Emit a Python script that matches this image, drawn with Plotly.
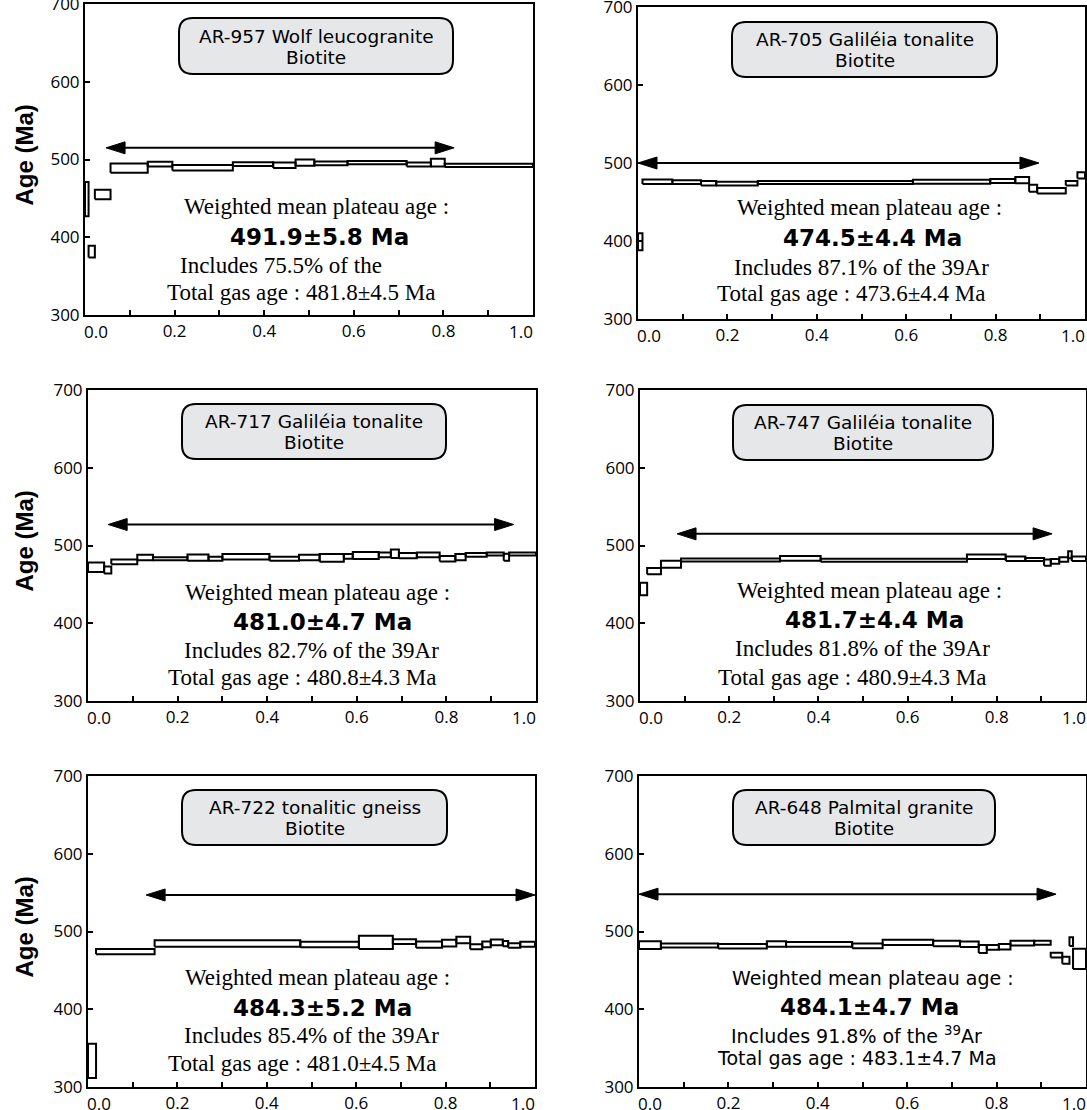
import plotly.graph_objects as go

# ---------------- data ----------------
# cumulative 39Ar fraction released: start / end of each heating step, apparent age (Ma), 1-sigma error (Ma)
AR957_START = [0.0, 0.008, 0.022, 0.057, 0.14, 0.195, 0.33, 0.42, 0.47, 0.512, 0.586, 0.718, 0.772, 0.803]
AR957_END = [0.008, 0.022, 0.057, 0.14, 0.195, 0.33, 0.42, 0.47, 0.512, 0.586, 0.718, 0.772, 0.803, 1.0]
AR957_AGE = [449, 381.5, 455, 489, 494, 489.5, 494, 492.5, 496, 495, 496, 493.5, 496, 492.5]
AR957_ERR = [22, 7.5, 6, 6, 3, 3.5, 2.5, 3.5, 4, 2.5, 2, 2.5, 5, 2]

AR705_START = [0.0, 0.01, 0.077, 0.141, 0.175, 0.268, 0.615, 0.788, 0.844, 0.875, 0.893, 0.957, 0.983]
AR705_END = [0.01, 0.077, 0.141, 0.175, 0.268, 0.615, 0.788, 0.844, 0.875, 0.893, 0.957, 0.983, 1.0]
AR705_AGE = [399, 476, 475.5, 474, 473.5, 475, 476, 477, 478, 467.5, 464.5, 474, 484]
AR705_ERR = [11, 3, 2.5, 3, 2.5, 2, 2.5, 2.5, 4, 4.5, 3.5, 3, 4]

AR717_START = [0.0, 0.036, 0.052, 0.11, 0.145, 0.222, 0.269, 0.30, 0.405, 0.471, 0.517, 0.571,
               0.591, 0.649, 0.676, 0.694, 0.734, 0.785, 0.82, 0.843, 0.89, 0.928, 0.94]
AR717_END = [0.036, 0.052, 0.11, 0.145, 0.222, 0.269, 0.30, 0.405, 0.471, 0.517, 0.571, 0.591,
             0.649, 0.676, 0.694, 0.734, 0.785, 0.82, 0.843, 0.89, 0.928, 0.94, 1.0]
AR717_AGE = [472, 468.5, 479, 484.5, 483, 484.5, 483, 485.5, 483, 484.5, 484, 486,
             487, 488, 489.5, 487, 488, 483, 485, 488, 489, 485, 489]
AR717_ERR = [6, 4.5, 3, 3.5, 2, 4, 2.5, 3.5, 2.5, 3.5, 5, 3, 4.5, 3, 5.5, 3.5, 3, 3.5, 4, 2.5, 2, 4.5, 2]

AR747_START = [0.0, 0.016, 0.047, 0.092, 0.314, 0.405, 0.733, 0.82, 0.864, 0.906, 0.921, 0.94, 0.96, 0.968]
AR747_END = [0.016, 0.047, 0.092, 0.314, 0.405, 0.733, 0.82, 0.864, 0.906, 0.921, 0.94, 0.96, 0.968, 1.0]
AR747_AGE = [444, 467, 476, 481.3, 483.5, 481, 485.5, 483, 482, 478, 479.5, 482, 488, 483]
AR747_ERR = [8, 4, 4.5, 2, 3, 2, 3, 3, 2, 4, 3, 3, 4.5, 3]

AR722_START = [0.0, 0.018, 0.149, 0.475, 0.606, 0.682, 0.734, 0.792, 0.824, 0.855, 0.882, 0.901, 0.928, 0.94, 0.967]
AR722_END = [0.018, 0.149, 0.475, 0.606, 0.682, 0.734, 0.792, 0.824, 0.855, 0.882, 0.901, 0.928, 0.94, 0.967, 1.0]
AR722_AGE = [333.5, 474, 484.7, 483.3, 486, 487, 483, 485, 489, 480.4, 483.5, 486, 484.5, 482, 483.5]
AR722_ERR = [22, 3.4, 4.2, 3.6, 8.5, 3, 4, 4.3, 4.2, 3.2, 3.6, 3.6, 3.4, 3, 3.2]

AR648_START = [0.0, 0.049, 0.177, 0.286, 0.329, 0.477, 0.545, 0.658, 0.718, 0.76, 0.778, 0.805,
               0.831, 0.884, 0.921, 0.947, 0.963, 0.971]
AR648_END = [0.049, 0.177, 0.286, 0.329, 0.477, 0.545, 0.658, 0.718, 0.76, 0.778, 0.805, 0.831,
             0.884, 0.921, 0.947, 0.963, 0.971, 1.0]
AR648_AGE = [482.6, 482, 481, 484, 483.5, 481.5, 486, 484.5, 483.5, 477.5, 479.5, 480.5,
             485, 485.5, 469.6, 463, 487, 464.8]
AR648_ERR = [5, 2.5, 3, 3.5, 3, 3, 3.5, 3.5, 3.5, 5, 3, 3.5, 3, 2.5, 3, 4.5, 5.5, 13]

# plateau arrows (fraction from / to, and drawn at age level)
PLATEAU_FROM = [0.047, 0.0, 0.045, 0.083, 0.13, 0.0]
PLATEAU_TO = [0.824, 0.897, 0.95, 0.924, 1.0, 0.933]
PLATEAU_ARROW_AGE = [515, 500, 527, 515, 547, 548]

SAMPLE_NAMES = ["AR-957 Wolf leucogranite", "AR-705 Galiléia tonalite", "AR-717 Galiléia tonalite",
                "AR-747 Galiléia tonalite", "AR-722 tonalitic gneiss", "AR-648 Palmital granite"]
MINERALS = ["Biotite", "Biotite", "Biotite", "Biotite", "Biotite", "Biotite"]
PLATEAU_LABEL = ["Weighted mean plateau age :"] * 6
PLATEAU_AGES = ["491.9±5.8 Ma", "474.5±4.4 Ma", "481.0±4.7 Ma", "481.7±4.4 Ma", "484.3±5.2 Ma", "484.1±4.7 Ma"]
INCLUDES = ["Includes 75.5% of the", "Includes 87.1% of the 39Ar", "Includes 82.7% of the 39Ar",
            "Includes 81.8% of the 39Ar", "Includes 85.4% of the 39Ar", "Includes 91.8% of the <sup>39</sup>Ar"]
TOTAL_GAS = ["Total gas age : 481.8±4.5 Ma", "Total gas age : 473.6±4.4 Ma", "Total gas age : 480.8±4.3 Ma",
             "Total gas age : 480.9±4.3 Ma", "Total gas age : 481.0±4.5 Ma", "Total gas age : 483.1±4.7 Ma"]

X_TICKS = [0.2, 0.4, 0.6, 0.8]
X_TICK_TEXT = ["0.2", "0.4", "0.6", "0.8"]
X_MINOR_TICKS = [0.1, 0.3, 0.5, 0.7, 0.9]
X_END_LABELS = ["0.0", "1.0"]
Y_TICKS = [300, 400, 500, 600, 700]
Y_TITLE = "Age (Ma)"

STEPS = [
    (AR957_START, AR957_END, AR957_AGE, AR957_ERR),
    (AR705_START, AR705_END, AR705_AGE, AR705_ERR),
    (AR717_START, AR717_END, AR717_AGE, AR717_ERR),
    (AR747_START, AR747_END, AR747_AGE, AR747_ERR),
    (AR722_START, AR722_END, AR722_AGE, AR722_ERR),
    (AR648_START, AR648_END, AR648_AGE, AR648_ERR),
]

# ---------------- layout (screen pixels) ----------------
W, H = 1087, 1110
# plot area: left, right, top, bottom
PANEL_PX = [(85, 533, 4, 315), (638, 1085, 7, 319), (88, 536, 390, 701),
            (640, 1086, 390, 701), (88, 535, 776, 1087), (639, 1086, 776, 1087)]
# title boxes: left, right, top, bottom
BOX_PX = [(179, 453, 18, 74), (732, 997, 22, 77), (182, 446, 404, 459),
          (733, 993, 405, 460), (182, 447, 790, 845), (733, 995, 790, 845)]
# text line centres (x, y) for: label, age, includes, total gas
TEXT_PX = [
    [(316, 206), (319, 237), (281, 265), (301, 292)],
    [(869, 208), (872, 238), (861, 267), (851, 294)],
    [(317, 592), (322, 622), (311, 650), (302, 677)],
    [(870, 590), (874, 620), (862, 648), (852, 677)],
    [(317, 977), (322, 1008), (311, 1035), (302, 1063)],
    [(873, 978), (869, 1007), (856, 1035), (857, 1058)],
]
SERIF = "Liberation Serif"
SANS = "DejaVu Sans"
TICKFONT = "Open Sans"
TICKSIZE = 17


def pxx(x):
    return min(1.0, max(0.0, x / W))


def pxy(y):
    return min(1.0, max(0.0, 1 - y / H))


fig = go.Figure()
shapes = []
annotations = []

for i, (l, r, t, b) in enumerate(PANEL_PX):
    n = "" if i == 0 else str(i + 1)
    xa, ya = "x" + n, "y" + n
    start, end, age, err = STEPS[i]

    # heating-step boxes
    xs, ys = [], []
    for s, e, a, er in zip(start, end, age, err):
        xs += [s, e, e, s, s, None]
        ys += [a - er, a - er, a + er, a + er, a - er, None]
    fig.add_trace(go.Scatter(x=xs, y=ys, mode="lines", fill="toself", fillcolor="white",
                             line=dict(color="black", width=2), xaxis=xa, yaxis=ya,
                             showlegend=False, hoverinfo="skip"))

    # plateau double arrow
    x0, x1, ay = PLATEAU_FROM[i], PLATEAU_TO[i], PLATEAU_ARROW_AGE[i]
    dx = 19.0 / (r - l)
    dy = 6.0 * 400.0 / (b - t)
    fig.add_trace(go.Scatter(x=[x0 + dx, x1 - dx], y=[ay, ay], mode="lines",
                             line=dict(color="black", width=2), xaxis=xa, yaxis=ya,
                             showlegend=False, hoverinfo="skip"))
    fig.add_trace(go.Scatter(
        x=[x0, x0 + dx, x0 + dx, x0, None, x1, x1 - dx, x1 - dx, x1],
        y=[ay, ay + dy, ay - dy, ay, None, ay, ay + dy, ay - dy, ay],
        mode="lines", fill="toself", fillcolor="black", line=dict(color="black", width=1),
        xaxis=xa, yaxis=ya, showlegend=False, hoverinfo="skip"))

    axis_common = dict(showline=True, linecolor="black", linewidth=2, mirror=True,
                       ticks="inside", ticklen=5, tickwidth=1.5, tickcolor="black",
                       showgrid=False, zeroline=False, fixedrange=True, automargin=False,
                       ticklabeloverflow="allow",
                       tickfont=dict(family=TICKFONT, size=TICKSIZE, color="black"))
    fig.update_layout(**{
        ("xaxis" + n): dict(domain=[pxx(l), pxx(r)], range=[0, 1], anchor=ya,
                            tickvals=X_TICKS, ticktext=X_TICK_TEXT,
                            minor=dict(tickvals=X_MINOR_TICKS, ticks="inside", ticklen=5,
                                       tickwidth=1.5, tickcolor="black", showgrid=False),
                            **axis_common),
        ("yaxis" + n): dict(domain=[pxy(b), pxy(t)], range=[300, 700], anchor=xa,
                            tickvals=Y_TICKS, **axis_common),
    })

    # end tick labels shifted inward
    annotations.append(dict(x=pxx(l + 11), y=pxy(b + 3), xref="paper", yref="paper",
                            text=X_END_LABELS[0], showarrow=False, xanchor="center", yanchor="top",
                            font=dict(family=TICKFONT, size=TICKSIZE, color="black")))
    annotations.append(dict(x=pxx(r - 12), y=pxy(b + 3), xref="paper", yref="paper",
                            text=X_END_LABELS[1], showarrow=False, xanchor="center", yanchor="top",
                            font=dict(family=TICKFONT, size=TICKSIZE, color="black")))

    # y axis title for left column
    if i % 2 == 0:
        annotations.append(dict(x=pxx(24), y=pxy((t + b) / 2 - 4), xref="paper", yref="paper",
                                text="<b>" + Y_TITLE + "</b>", textangle=-90, showarrow=False,
                                xanchor="center", yanchor="middle",
                                font=dict(family="Liberation Sans", size=24, color="black")))

    # rounded title box
    bl, br, bt, bb = BOX_PX[i]
    rad = 14

    def P(x, y):
        return f"{pxx(x):.5f},{pxy(y):.5f}"
    path = (f"M {P(bl + rad, bt)} L {P(br - rad, bt)} Q {P(br, bt)} {P(br, bt + rad)} "
            f"L {P(br, bb - rad)} Q {P(br, bb)} {P(br - rad, bb)} "
            f"L {P(bl + rad, bb)} Q {P(bl, bb)} {P(bl, bb - rad)} "
            f"L {P(bl, bt + rad)} Q {P(bl, bt)} {P(bl + rad, bt)} Z")
    shapes.append(dict(type="path", path=path, xref="paper", yref="paper",
                       fillcolor="#e6e7e8", line=dict(color="black", width=2), layer="above"))
    cxb, cyb = (bl + br) / 2, (bt + bb) / 2
    for txt, dyl in ((SAMPLE_NAMES[i], -10), (MINERALS[i], 11)):
        annotations.append(dict(x=pxx(cxb), y=pxy(cyb + dyl), xref="paper", yref="paper",
                                text=txt, showarrow=False, xanchor="center", yanchor="middle",
                                font=dict(family=SANS, size=18.5, color="black")))

    # result text block
    body_font = SANS if i == 5 else SERIF
    body_size = 19 if i == 5 else 23
    lines = [(PLATEAU_LABEL[i], body_font, body_size),
             ("<b>" + PLATEAU_AGES[i] + "</b>", SANS, 23),
             (INCLUDES[i], body_font, body_size),
             (TOTAL_GAS[i], body_font, body_size)]
    for (txt, fam, sz), (cx, cy) in zip(lines, TEXT_PX[i]):
        annotations.append(dict(x=pxx(cx), y=pxy(cy), xref="paper", yref="paper", text=txt,
                                showarrow=False, xanchor="center", yanchor="middle",
                                font=dict(family=fam, size=sz, color="black")))

fig.update_layout(width=W, height=H, autosize=False, margin=dict(l=0, r=0, t=0, b=0, pad=0),
                  paper_bgcolor="white", plot_bgcolor="white", showlegend=False,
                  shapes=shapes, annotations=annotations)

# remove the browser's default 8 px page margin so the figure fills the window exactly
fig.write_html("out.html", config={"displayModeBar": False},
               post_script="document.body.style.margin='0px';")
